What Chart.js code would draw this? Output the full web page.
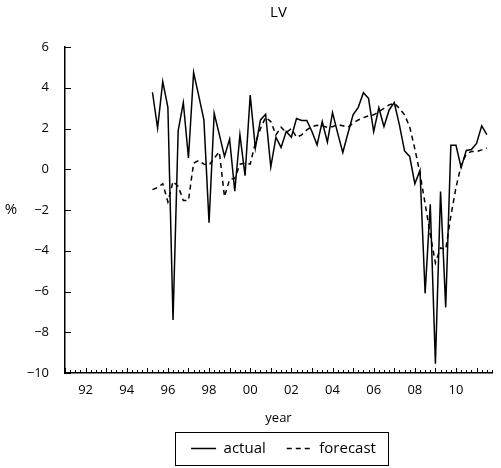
<!DOCTYPE html>
<html>
<head>
<meta charset="utf-8">
<script src="https://cdn.jsdelivr.net/npm/chart.js@4.4.1/dist/chart.umd.min.js"></script>
<style>
  html, body { margin: 0; padding: 0; background: #fff; }
  #wrap { position: relative; width: 501px; height: 468px; }
</style>
</head>
<body>
<div id="wrap"><canvas id="c" width="501" height="468"></canvas></div>
<script>
// LV: actual vs forecast, quarterly, percent
const quarters = [
  '1995Q2', '1995Q3', '1995Q4',
  '1996Q1', '1996Q2', '1996Q3', '1996Q4',
  '1997Q1', '1997Q2', '1997Q3', '1997Q4',
  '1998Q1', '1998Q2', '1998Q3', '1998Q4',
  '1999Q1', '1999Q2', '1999Q3', '1999Q4',
  '2000Q1', '2000Q2', '2000Q3', '2000Q4',
  '2001Q1', '2001Q2', '2001Q3', '2001Q4',
  '2002Q1', '2002Q2', '2002Q3', '2002Q4',
  '2003Q1', '2003Q2', '2003Q3', '2003Q4',
  '2004Q1', '2004Q2', '2004Q3', '2004Q4',
  '2005Q1', '2005Q2', '2005Q3', '2005Q4',
  '2006Q1', '2006Q2', '2006Q3', '2006Q4',
  '2007Q1', '2007Q2', '2007Q3', '2007Q4',
  '2008Q1', '2008Q2', '2008Q3', '2008Q4',
  '2009Q1', '2009Q2', '2009Q3', '2009Q4',
  '2010Q1', '2010Q2', '2010Q3', '2010Q4',
  '2011Q1', '2011Q2', '2011Q3'
];

const actual = [
  3.78, 2.02, 4.30,
  3.04, -7.40, 1.90, 3.27,
  0.55, 4.75, 3.60, 2.42,
  -2.63, 2.75, 1.70, 0.63,
  1.48, -1.08, 1.69, -0.32,
  3.64, 1.04, 2.42, 2.70,
  0.11, 1.57, 1.07, 1.85,
  1.57, 2.49, 2.39, 2.39,
  1.85, 1.20, 2.34, 1.33,
  2.78, 1.77, 0.82, 1.77,
  2.67, 3.04, 3.76, 3.48,
  1.85, 3.02, 2.09, 2.91,
  3.27, 2.18, 0.90, 0.63,
  -0.71, -0.06, -6.09, -1.72,
  -9.55, -1.09, -6.78, 1.18,
  1.18, 0.08, 0.92, 0.97,
  1.27, 2.13, 1.70
];

const forecast = [
  -1.00, -0.90, -0.71,
  -1.60, -0.60, -0.84, -1.53,
  -1.53, 0.30, 0.43, 0.25,
  0.20, 0.55, 0.85, -1.35,
  -0.50, -0.45, 0.25, 0.30,
  0.25, 1.30, 2.00, 2.55,
  2.34, 1.69, 2.06, 1.80,
  2.00, 1.57, 1.69, 1.93,
  2.09, 2.16, 2.13, 2.06,
  2.09, 2.19, 2.13, 2.06,
  2.26, 2.42, 2.53, 2.62,
  2.67, 2.83, 2.99, 3.16,
  3.24, 2.99, 2.67, 2.09,
  1.00, -0.20, -1.70, -3.20,
  -4.60, -3.86, -3.94, -2.30,
  -0.90, 0.20, 0.75, 0.87,
  0.87, 0.95, 1.04
];

const yTicks = [-10, -8, -6, -4, -2, 0, 2, 4, 6];
const xRange = [1991, 2011.75];

const FONT = "'Open Sans', 'DejaVu Sans', sans-serif";

// '1997Q3' -> 1997.5
const qToYear = q => parseInt(q.slice(0, 4), 10) + (parseInt(q.slice(5), 10) - 1) / 4;
const toPoints = vals => vals.map((v, i) => ({ x: qToYear(quarters[i]), y: v }));

// inward tick marks, "%" label and the legend frame
const extras = {
  id: 'extras',
  afterUpdate(chart) {
    // legend row sits a little left of the plot centre; nudge it over
    const lg = chart.legend;
    if (!lg) return;
    lg.left += 5; lg.right += 5;
    (lg.legendHitBoxes || []).forEach(b => { b.left += 5; });
  },
  afterDatasetsDraw(chart) {
    const { ctx, chartArea: ca, scales: { x, y } } = chart;
    ctx.save();
    ctx.strokeStyle = '#000';
    ctx.lineWidth = 1;
    ctx.beginPath();
    for (let q = Math.round(x.min * 4); q <= Math.round(x.max * 4); q++) {
      const px = Math.round(x.getPixelForValue(q / 4)) + 0.5;
      const len = q % 4 === 0 ? 5 : 3;
      ctx.moveTo(px, ca.bottom);
      ctx.lineTo(px, ca.bottom - len);
    }
    yTicks.forEach(v => {
      const py = Math.round(y.getPixelForValue(v)) + 0.5;
      ctx.moveTo(ca.left, py);
      ctx.lineTo(ca.left + 6, py);
    });
    ctx.stroke();
    ctx.restore();
  },
  afterDraw(chart) {
    const { ctx, chartArea: ca } = chart;
    ctx.save();
    ctx.fillStyle = '#000';
    ctx.font = `15px ${FONT}`;
    ctx.textAlign = 'center';
    ctx.textBaseline = 'middle';
    ctx.fillText('%', ca.left - 54, (ca.top + ca.bottom) / 2);

    const boxes = chart.legend && chart.legend.legendHitBoxes;
    if (boxes && boxes.length) {
      const l = Math.min(...boxes.map(b => b.left)) - 16;
      const r = Math.max(...boxes.map(b => b.left + b.width)) + 12;
      const cy = boxes[0].top + boxes[0].height / 2;
      ctx.strokeStyle = '#000';
      ctx.lineWidth = 1;
      ctx.strokeRect(Math.round(l) + 0.5, Math.round(cy - 16.5) + 0.5, Math.round(r - l), 33);
    }
    ctx.restore();
  }
};

const defaultLabels = Chart.defaults.plugins.legend.labels.generateLabels;

new Chart(document.getElementById('c').getContext('2d'), {
  type: 'line',
  data: {
    datasets: [
      { label: 'actual', data: toPoints(actual), borderColor: '#000', backgroundColor: '#000',
        borderWidth: 1.5, pointRadius: 0, tension: 0 },
      { label: 'forecast', data: toPoints(forecast), borderColor: '#000', backgroundColor: '#000',
        borderWidth: 1.5, borderDash: [5, 4], pointRadius: 0, tension: 0 },
    ],
  },
  options: {
    responsive: false,
    animation: false,
    layout: { padding: { left: 0, right: 0, top: 0, bottom: 2 } },
    plugins: {
      title: {
        display: true, text: 'LV', color: '#000', fullSize: false,
        font: { family: FONT, size: 15, weight: 'normal' },
        padding: { top: 4, bottom: 25 },
      },
      legend: {
        display: true, position: 'bottom', fullSize: false,
        labels: {
          color: '#000', font: { family: FONT, size: 15 },
          usePointStyle: true, pointStyle: 'line', pointStyleWidth: 25, padding: 21,
          // point-style items lose the dataset dash, put it back
          generateLabels: chart => defaultLabels(chart).map(item => {
            const ds = chart.data.datasets[item.datasetIndex];
            return { ...item, lineDash: ds.borderDash || [], lineWidth: ds.borderWidth };
          }),
        },
      },
      tooltip: { enabled: false },
    },
    scales: {
      x: {
        type: 'linear', min: xRange[0], max: xRange[1],
        grid: { display: false, drawTicks: false },
        border: { display: true, color: '#000', width: 1.5 },
        ticks: {
          stepSize: 1, autoSkip: false, maxRotation: 0, padding: 9, color: '#000',
          font: { family: FONT, size: 13 },
          callback: v => (Number.isInteger(v) && v % 2 === 0) ? String(v).slice(2) : '',
        },
        title: { display: true, text: 'year', color: '#000', font: { family: FONT, size: 13 }, padding: { top: 0, bottom: -6 } },
        afterFit: s => { s.height = 47; },
      },
      y: {
        min: yTicks[0], max: yTicks[yTicks.length - 1],
        grid: { display: false, drawTicks: false },
        border: { display: true, color: '#000', width: 1.5 },
        ticks: {
          stepSize: 2, padding: 16, color: '#000',
          font: { family: FONT, size: 13 },
          callback: v => v < 0 ? '\u2212' + Math.abs(v) : String(v),
        },
        afterFit: s => { s.width = 65; },
      },
    },
  },
  plugins: [extras],
});
</script>
</body>
</html>
